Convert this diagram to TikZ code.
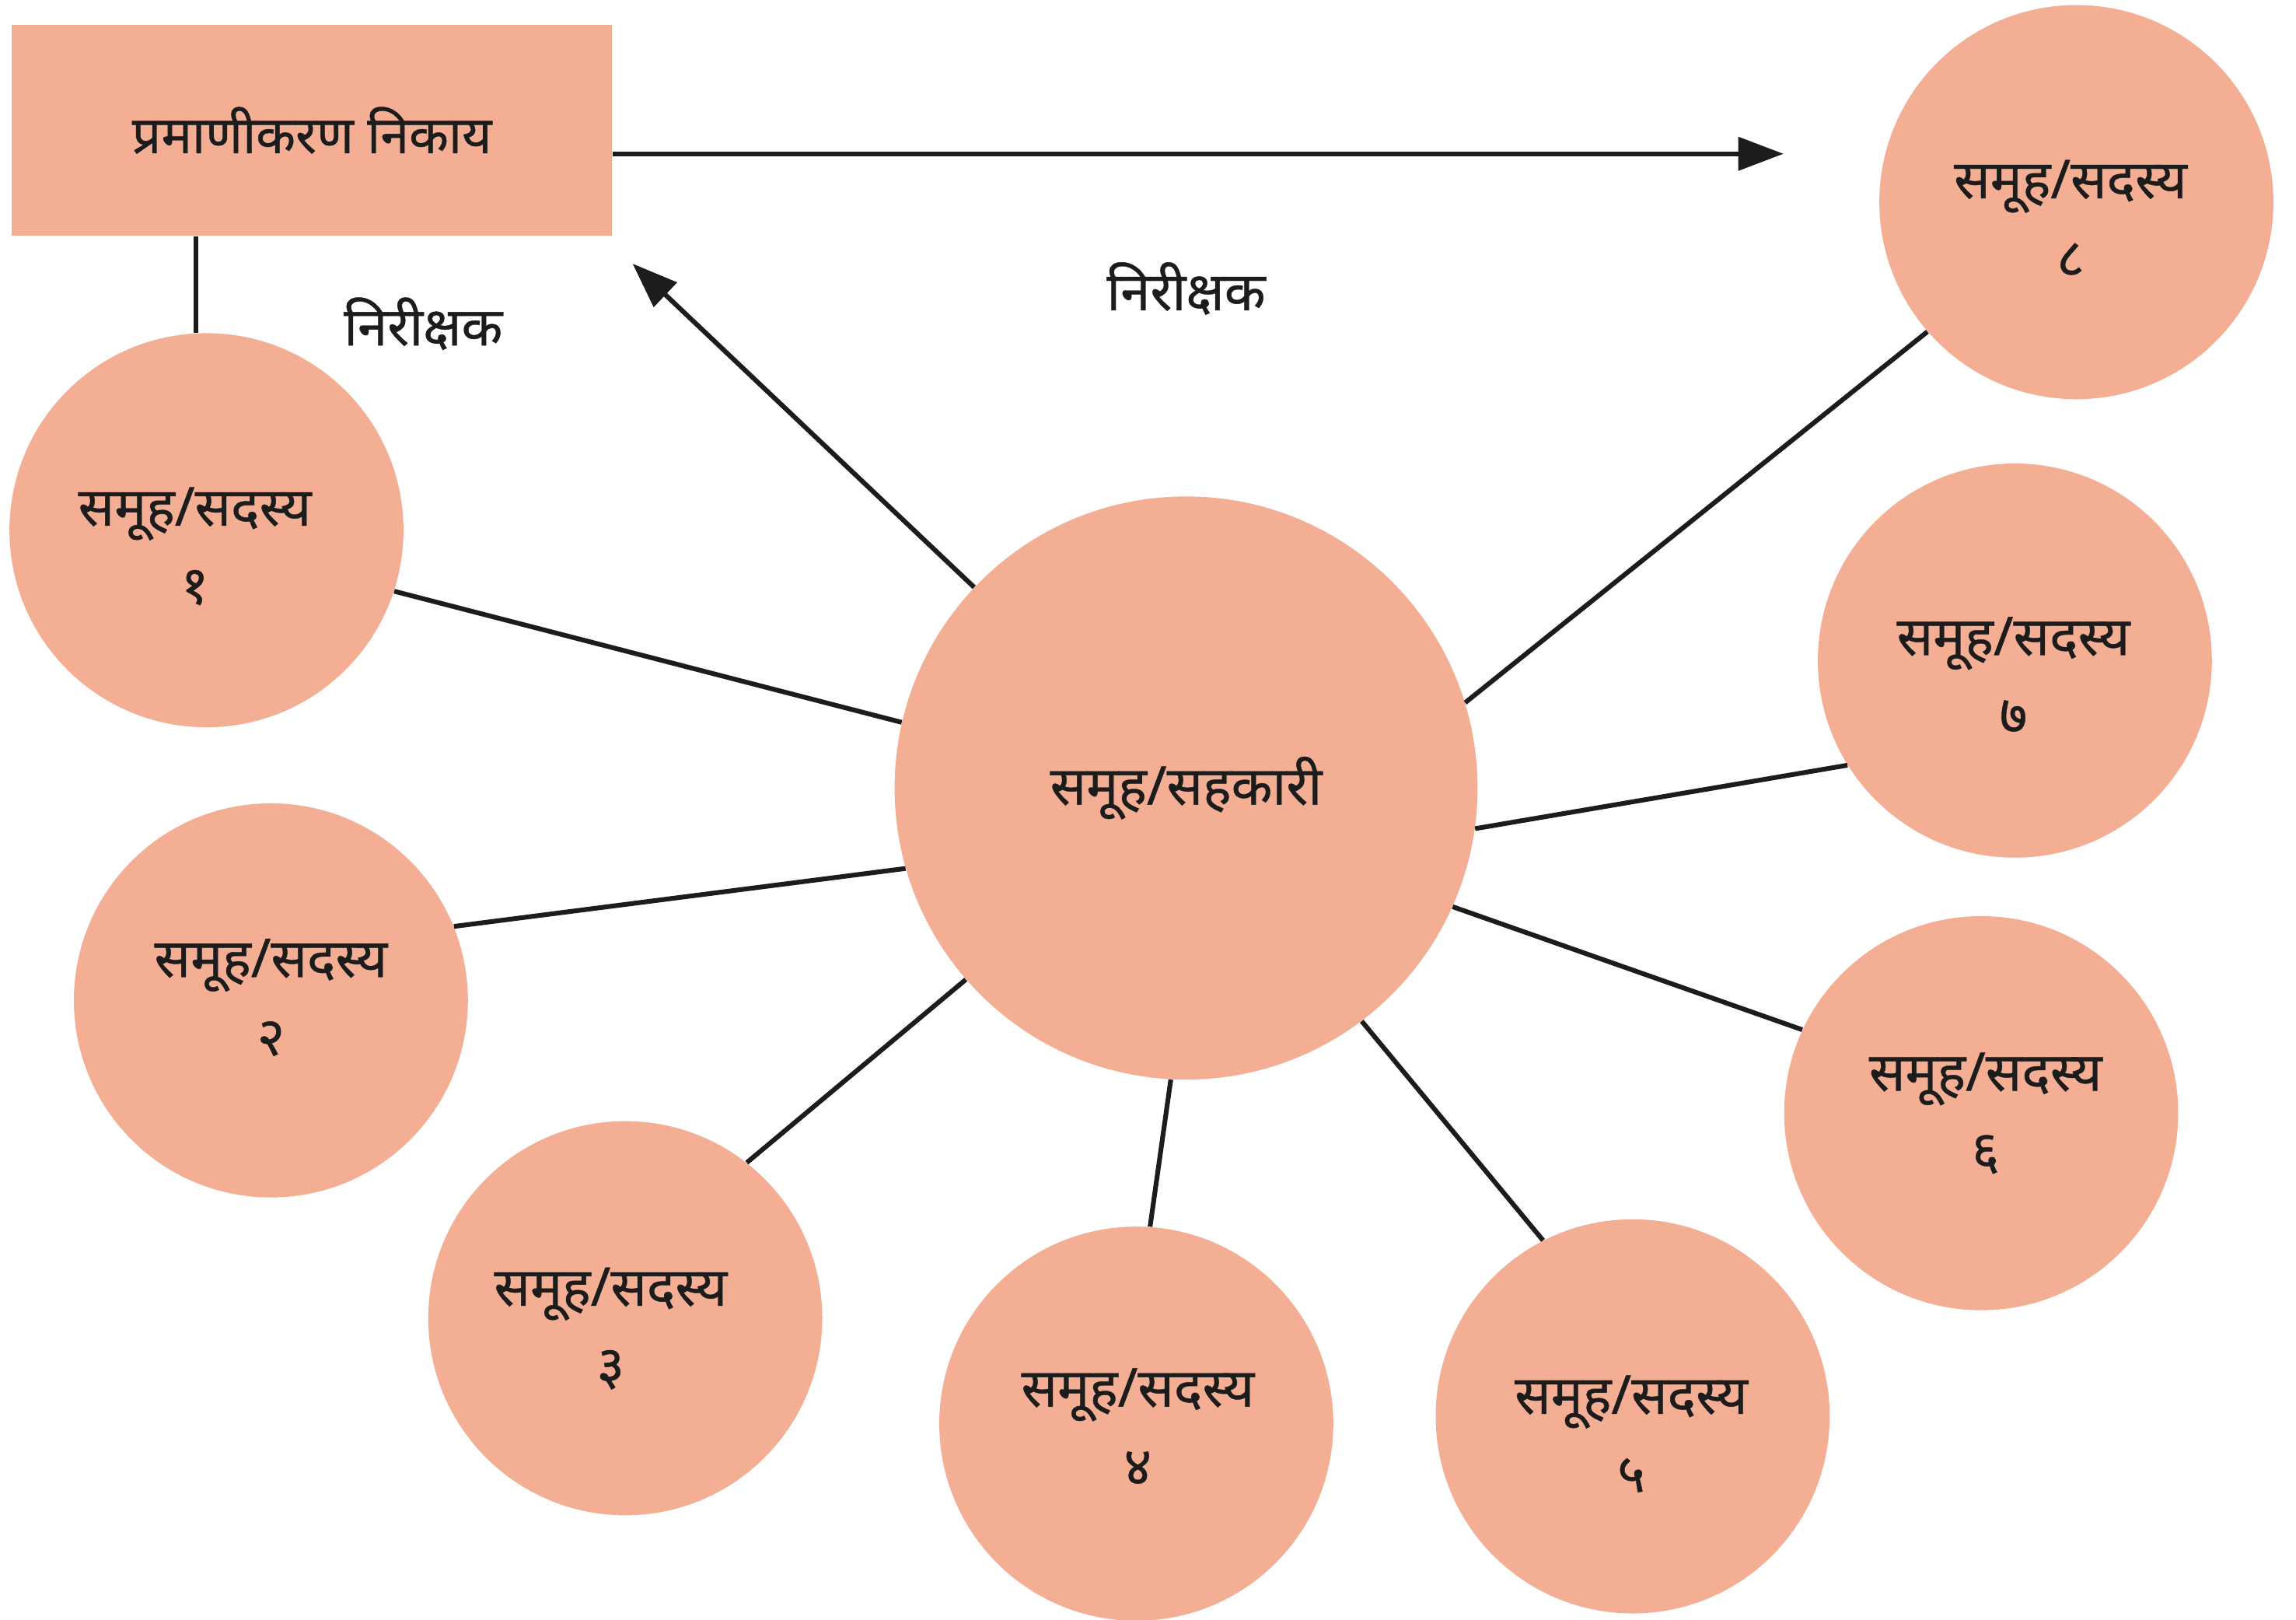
\documentclass[tikz,border=0pt]{standalone}
\usepackage{fontspec}
\newfontfamily\deva[Script=Devanagari,FakeBold=0.6]{Noto Sans}
\usetikzlibrary{arrows.meta}
\definecolor{salmon}{HTML}{F3AE94}
\definecolor{ink}{HTML}{1C1C1C}
\begin{document}
\begin{tikzpicture}[x=0.025cm,y=-0.025cm,
  txt/.style={font=\deva\fontsize{26}{38}\selectfont,text=ink},
  member/.style={circle,fill=salmon,minimum size=6.725cm,inner sep=0pt},
  membertext/.style={align=center,inner sep=0pt,txt},
  hubnode/.style={circle,fill=salmon,minimum size=9.95cm,inner sep=0pt,align=center,txt},
  body/.style={rectangle,fill=salmon,minimum width=10.25cm,minimum height=3.6cm,inner sep=0pt,txt},
  link/.style={draw=ink,line width=2.3pt},
  arr/.style={link,-{Triangle[length=22pt,width=16pt]}},
  lbl/.style={txt}]
\useasboundingbox (0,0) rectangle (1568,1106);

\node[body] (cert) at (213,89) {\fontsize{25}{30}\selectfont प्रमाणीकरण निकाय};

\node[hubnode] (hub) at (810,538) {समूह/सहकारी};

\node[member] (m1) at (141,362) {};
\node[member] (m2) at (185,683) {};
\node[member] (m3) at (427,900) {};
\node[member] (m4) at (776,972) {};
\node[member] (m5) at (1115,967) {};
\node[member] (m6) at (1353,760) {};
\node[member] (m7) at (1376,451) {};
\node[member] (m8) at (1418,138) {};

\node[membertext] (t1) at (133,373) {समूह/सदस्य\\१};
\node[membertext] (t2) at (185,681) {समूह/सदस्य\\२};
\node[membertext] (t3) at (417,907) {समूह/सदस्य\\३};
\node[membertext] (t4) at (777,974) {समूह/सदस्य\\४};
\node[membertext] (t5) at (1114,979) {समूह/सदस्य\\५};
\node[membertext] (t6) at (1356,760) {समूह/सदस्य\\६};
\node[membertext] (t7) at (1375,461) {समूह/सदस्य\\७};
\node[membertext] (t8) at (1414,149) {समूह/सदस्य\\८};

\node[lbl] (insp1) at (289,221) {निरीक्षक};
\node[lbl] (insp2) at (810,197) {निरीक्षक};

\coordinate (tip1) at (1218,105);
\coordinate (tip2) at (432,180);

\draw[arr] (cert.east |- tip1) -- (tip1);
\draw[arr] (hub) -- (tip2);
\draw[link] (m1.93.4) -- (m1.93.4 |- cert.south);

\draw[link] (m1.-18.8) -- (hub.167.9);
\draw[link] (m2.22.4) -- (hub.196);
\draw[link] (m3.52.9) -- (hub.221.3);
\draw[link] (m4.86.5) -- (hub.267.1);
\draw[link] (m5.117.9) -- (hub.-53.9);
\draw[link] (m6.155.1) -- (hub.-24.8);
\draw[link] (m7.212.6) -- (hub.-8.9);
\draw[link] (m8.221.1) -- (hub.17.4);
\end{tikzpicture}
\end{document}
